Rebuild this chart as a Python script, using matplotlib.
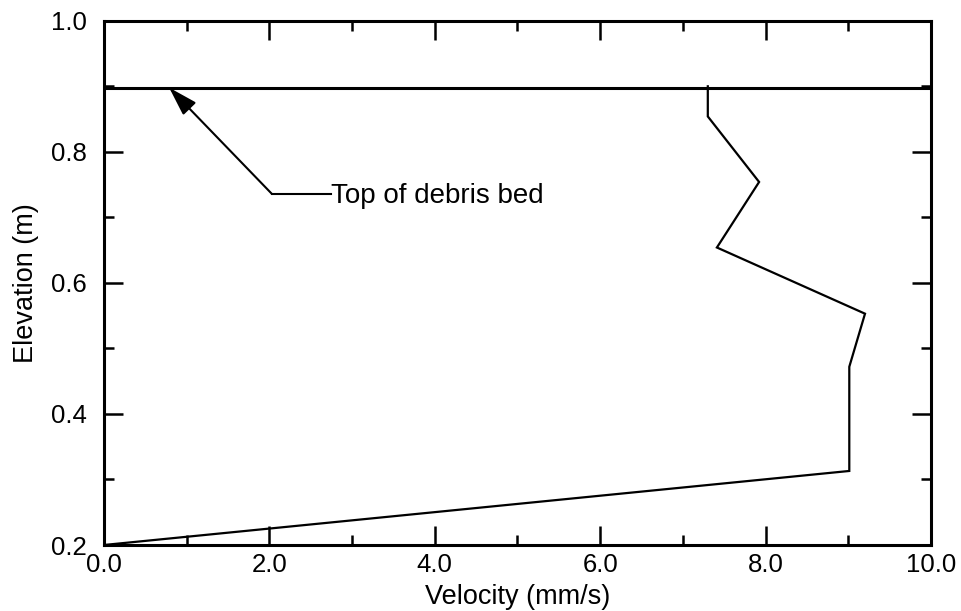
import matplotlib
matplotlib.use("Agg")
import matplotlib.pyplot as plt
from matplotlib.ticker import MultipleLocator, FormatStrFormatter

# Measured velocity profile through the debris bed
velocity = [7.3, 7.3, 7.92, 7.41, 9.2, 9.01, 9.01, 0.0]
elevation = [0.9, 0.854, 0.754, 0.654, 0.553, 0.472, 0.313, 0.2]

bed_top = 0.898
arrow_tip = (0.79, 0.898)
label_anchor = (2.03, 0.736)
label_text = "Top of debris bed"

plt.rcParams['font.family'] = ['Liberation Sans', 'DejaVu Sans']

fig = plt.figure(figsize=(9.61, 6.11), dpi=100)
ax = fig.add_axes([0.108, 0.108, 0.861, 0.858])

ax.plot(velocity, elevation, color='black', lw=1.6, solid_joinstyle='miter')
ax.axhline(bed_top, color='black', lw=2.2)

# Leader: short horizontal run, then diagonal arrow up to the bed surface
ax.plot([label_anchor[0], label_anchor[0] + 0.72], [label_anchor[1]] * 2,
        color='black', lw=1.5)
ax.annotate('', xy=arrow_tip, xytext=label_anchor,
            arrowprops=dict(arrowstyle='-|>,head_length=1.8,head_width=0.55',
                            color='black', lw=1.5, shrinkA=0, shrinkB=0))
ax.text(label_anchor[0] + 0.72, label_anchor[1] - 0.003, label_text,
        fontsize=20, va='center', ha='left')

ax.set_xlim(0, 10)
ax.set_ylim(0.2, 1.0)
ax.xaxis.set_major_locator(MultipleLocator(2))
ax.xaxis.set_minor_locator(MultipleLocator(1))
ax.yaxis.set_major_locator(MultipleLocator(0.2))
ax.yaxis.set_minor_locator(MultipleLocator(0.1))
ax.xaxis.set_major_formatter(FormatStrFormatter('%.1f'))
ax.yaxis.set_major_formatter(FormatStrFormatter('%.1f'))

ax.tick_params(which='both', direction='in', top=True, right=True,
               labelsize=18.5, width=1.8)
ax.tick_params(axis='y', pad=12)
ax.tick_params(axis='x', pad=6)
ax.tick_params(which='major', length=14)
ax.tick_params(which='minor', length=7)
for s in ax.spines.values():
    s.set_linewidth(2.2)

ax.set_xlabel('Velocity (mm/s)', fontsize=19.5, labelpad=5)
ax.set_ylabel('Elevation (m)', fontsize=19.5, labelpad=9)

fig.savefig('out.png', dpi=100)
